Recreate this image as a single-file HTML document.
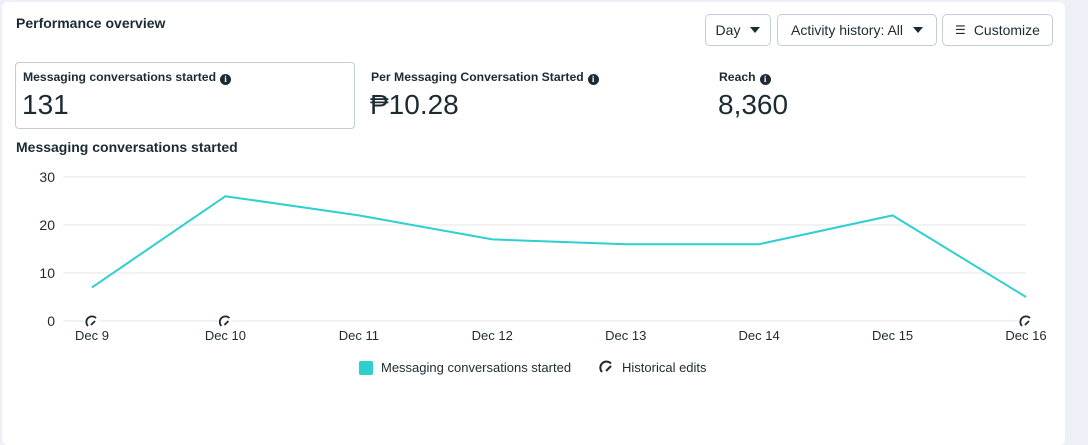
<!DOCTYPE html>
<html><head><meta charset="utf-8"><style>
body{margin:0;width:1088px;height:445px;background:#eef0f8;font-family:"Liberation Sans",sans-serif;color:#1c2b33;overflow:hidden;position:relative}
.card{position:absolute;left:2px;top:2px;width:1063px;height:443px;background:#fff;border-radius:6px}
.t{position:absolute;white-space:nowrap}
.btn{position:absolute;top:14px;height:32px;border:1px solid #c5ccd3;border-radius:5px;box-sizing:border-box;font-size:14px;display:flex;align-items:center;justify-content:center;background:#fff}
.tri{display:inline-block;width:0;height:0;border-left:5px solid transparent;border-right:5px solid transparent;border-top:6px solid #1c2b33;margin-left:10px}
.lbl{font-size:12.2px;font-weight:bold}
.info{display:inline-block;width:11px;height:11px;border-radius:50%;background:#1c2b33;color:#fff;font-size:9px;text-align:center;line-height:11px;vertical-align:-1px;margin-left:4px;font-family:"Liberation Serif",serif;font-weight:bold}
.val{font-size:28px}
</style></head><body>
<div class="card"></div>
<div class="t" style="left:16px;top:15px;font-size:14px;font-weight:bold">Performance overview</div>
<div class="btn" style="left:705px;width:66px">Day<span class="tri"></span></div>
<div class="btn" style="left:777px;width:160px">Activity history: All<span class="tri"></span></div>
<div class="btn" style="left:942px;width:111px"><span style="font-size:12px;margin-right:8px">☰</span>Customize</div>
<div style="position:absolute;left:15px;top:62px;width:340px;height:67px;border:1px solid #c5ccd3;border-radius:4px;box-sizing:border-box"></div>
<div class="t lbl" style="left:23px;top:70px">Messaging conversations started<span class="info">i</span></div>
<div class="t val" style="left:22px;top:89px">131</div>
<div class="t lbl" style="left:371px;top:70px">Per Messaging Conversation Started<span class="info">i</span></div>
<div class="t val" style="left:370px;top:89px">₱10.28</div>
<div class="t lbl" style="left:719px;top:70px">Reach<span class="info">i</span></div>
<div class="t val" style="left:718px;top:89px">8,360</div>
<div class="t" style="left:16px;top:139px;font-size:14px;font-weight:bold">Messaging conversations started</div>
<svg id="chart" width="1088" height="445" style="position:absolute;left:0;top:0"></svg>
<div style="position:absolute;left:359px;top:361px;width:14px;height:14px;background:#2ecfcf;border-radius:2px"></div>
<div class="t" style="left:381px;top:360px;font-size:13px">Messaging conversations started</div>
<svg style="position:absolute;left:599px;top:360px" width="16" height="16"><path d="M3 12 A6 6 0 0 1 12 3.5" fill="none" stroke="#1c2b33" stroke-width="2"/><path d="M7 11 L12 6" stroke="#1c2b33" stroke-width="2"/></svg>
<div class="t" style="left:622px;top:360px;font-size:13px">Historical edits</div>
<script>
const categories=["Dec 9","Dec 10","Dec 11","Dec 12","Dec 13","Dec 14","Dec 15","Dec 16"];
const values=[7,26,22,17,16,16,22,5];
const yTicks=[0,10,20,30];
const editDates=["Dec 9","Dec 10","Dec 16"];
const svg=document.getElementById('chart');const NS='http://www.w3.org/2000/svg';
const x=i=>92+i*(1026-92)/(categories.length-1);
const y=v=>321-v*(321-177)/30;
function mk(t,a){const e=document.createElementNS(NS,t);for(const k in a)e.setAttribute(k,a[k]);svg.appendChild(e);return e;}
yTicks.forEach(v=>{const l=mk('line',{x1:63,x2:1026,y1:y(v),y2:y(v),stroke:'#e4e6eb','stroke-width':1});


const t=mk('text',{x:55,y:y(v)+5,'text-anchor':'end','font-size':14,fill:'#1c2b33','font-family':'Liberation Sans'});t.textContent=v;

});
const p=mk('polyline',{points:values.map((v,i)=>x(i)+','+y(v)).join(' '),fill:'none',stroke:'#2ecfcf','stroke-width':2,'stroke-linejoin':'round'});


categories.forEach((c,i)=>{const t=mk('text',{x:x(i),y:340,'text-anchor':'middle','font-size':13,fill:'#1c2b33','font-family':'Liberation Sans'});t.textContent=c;


if(editDates.includes(c)){const cx=x(i),cy=322;
mk('circle',{cx:cx,cy:cy,r:7,fill:'#fff'});
const g=mk('path',{d:`M${cx-4} ${cy+4} A5.5 5.5 0 0 1 ${cx+4} ${cy-4} M${cx-1} ${cy+3} L${cx+3} ${cy-1}`,fill:'none',stroke:'#1c2b33','stroke-width':1.8});

}});
</script>
</body></html>
